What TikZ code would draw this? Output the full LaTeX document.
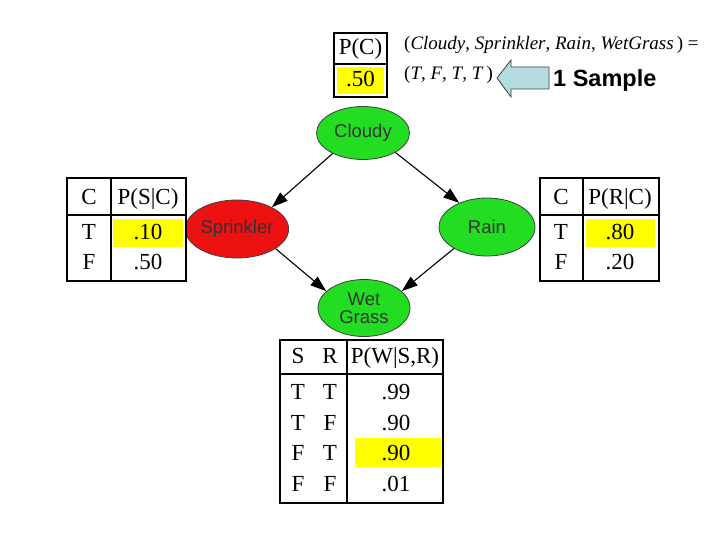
\documentclass[tikz,border=0pt]{standalone}
\usepackage{fontspec}
\setmainfont{Liberation Serif}
\newfontfamily\arialf{Liberation Sans}
\usetikzlibrary{shapes.geometric,arrows.meta}
\definecolor{ngreen}{HTML}{22DD22}
\definecolor{nred}{HTML}{EE1111}
\definecolor{hyellow}{HTML}{FFFF00}
\definecolor{arrowblue}{HTML}{B4DCDE}
\definecolor{outl}{HTML}{404040}
\tikzset{
  bn/.style={ellipse, draw=outl, line width=0.8pt, inner sep=0pt, font=\arialf\fontsize{18.5}{18}\selectfont, text=black!80, align=center},
  edge/.style={line width=1.1pt, -{Triangle[length=16pt,width=11pt]}},
  tbl/.style={draw=black, line width=2pt},
  hl/.style={fill=hyellow},
  cell/.style={anchor=base, inner sep=0pt, font=\fontsize{23}{25}\selectfont},
  mtxt/.style={anchor=base west, inner sep=0pt, font=\fontsize{19}{21}\selectfont},
}
\begin{document}
\begin{tikzpicture}[x=1pt,y=-1pt]
\useasboundingbox (0,0) rectangle (720,540);
% P(C) table
\fill[hl] (337,67) rectangle (384,94);
\draw[tbl] (334,33) rectangle (387,97);
\draw[tbl] (334,64) -- (387,64);
\node[cell] (pc) at (360.5,55) {P(C)};
\node[cell] (pcv) at (360.5,87) {.50};
% sample text
\node[mtxt] (tup) at (404,50) {(\textit{Cloudy}, \textit{Sprinkler}, \textit{Rain}, \textit{WetGrass}\,) =};
\node[mtxt] (val) at (404,80) {(\textit{T}, \textit{F}, \textit{T}, \textit{T}\,)};
\draw[fill=arrowblue, draw=outl, line width=0.8pt] (497,78) -- (511,60) -- (511,67) -- (549,67) -- (549,89) -- (511,89) -- (511,97) -- cycle;
\node[anchor=base west, inner sep=0pt, font=\arialf\bfseries\fontsize{23.5}{25}\selectfont] (smp) at (553,87) {1 Sample};
% nodes
\node[bn, fill=ngreen, minimum width=93pt, minimum height=53pt] (cloudy) at (363,133) {Cloudy};
\node[bn, fill=nred, minimum width=100pt, minimum height=58pt] (spr) at (237,229) {Sprinkler};
\node[bn, fill=ngreen, minimum width=96pt, minimum height=58pt] (rain) at (487,227) {Rain};
\node[bn, fill=ngreen, minimum width=92pt, minimum height=57pt] (wet) at (364,308) {Wet\\Grass};
% edges
\draw[edge] (cloudy.214) -- (spr.32);
\draw[edge] (cloudy.329) -- (rain.139);
\draw[edge] (spr.333) -- (wet.156);
\draw[edge] (rain.213) -- (wet.24);
% left table
\fill[hl] (113,219) rectangle (183,247);
\draw[tbl] (67,178) rectangle (186,281);
\draw[tbl] (67,215) -- (186,215);
\draw[tbl] (111,178) -- (111,281);
\node[cell] (lc) at (89,205) {C};
\node[cell] (lp) at (148,205) {P(S|C)};
\node[cell] (lt) at (89,240) {T};
\node[cell] (ltv) at (148,240) {.10};
\node[cell] (lf) at (89,269) {F};
\node[cell] (lfv) at (148,269) {.50};
% right table
\fill[hl] (586,219) rectangle (655,247);
\draw[tbl] (540,178) rectangle (659,281);
\draw[tbl] (540,215) -- (659,215);
\draw[tbl] (583,178) -- (583,281);
\node[cell] (rc) at (561,205) {C};
\node[cell] (rp) at (620,205) {P(R|C)};
\node[cell] (rt) at (561,240) {T};
\node[cell] (rtv) at (620,240) {.80};
\node[cell] (rf) at (561,269) {F};
\node[cell] (rfv) at (620,269) {.20};
% bottom table
\fill[hl] (355,438) rectangle (441,467);
\draw[tbl] (280,340) rectangle (443,503);
\draw[tbl] (280,374) -- (443,374);
\draw[tbl] (347,340) -- (347,503);
\node[cell] (bs) at (298,363) {S};
\node[cell] (br) at (330,363) {R};
\node[cell] (bp) at (395,363) {P(W|S,R)};
\node[cell] (b1s) at (298,399) {T};
\node[cell] (b1r) at (330,399) {T};
\node[cell] (b1v) at (396,399) {.99};
\node[cell] (b2s) at (298,430) {T};
\node[cell] (b2r) at (330,430) {F};
\node[cell] (b2v) at (396,430) {.90};
\node[cell] (b3s) at (298,460) {F};
\node[cell] (b3r) at (330,460) {T};
\node[cell] (b3v) at (396,460) {.90};
\node[cell] (b4s) at (298,491) {F};
\node[cell] (b4r) at (330,491) {F};
\node[cell] (b4v) at (396,491) {.01};
\end{tikzpicture}
\end{document}
